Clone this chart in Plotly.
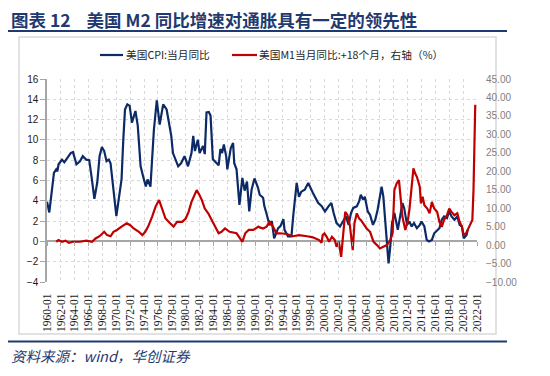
import plotly.graph_objects as go

# ---------------- data ----------------
cpi_dates = [
    "1960-01", "1960-05", "1961-01", "1961-05", "1961-07", "1961-09", "1962-03", "1962-07", "1962-12",
    "1963-06", "1963-10", "1964-04", "1964-10", "1965-03", "1965-09", "1966-02", "1966-06", "1966-11",
    "1967-04", "1967-08", "1967-12", "1968-04", "1968-08", "1968-12", "1969-03", "1969-07", "1970-01",
    "1970-05", "1970-10", "1971-01", "1971-04", "1971-08", "1971-12", "1972-04", "1972-07", "1972-10",
    "1973-02", "1973-07", "1973-12", "1974-04", "1974-07", "1974-12", "1975-06", "1975-09", "1975-11",
    "1976-04", "1976-10", "1977-04", "1977-07", "1977-12", "1978-03", "1978-09", "1978-12", "1979-05",
    "1979-11", "1980-02", "1980-05", "1980-11", "1981-02", "1981-05", "1981-10", "1982-01", "1982-07",
    "1982-10", "1983-01", "1983-05", "1983-08", "1983-12", "1984-06", "1984-10", "1985-01", "1985-04",
    "1985-07", "1985-11", "1986-01", "1986-04", "1986-07", "1986-11", "1987-01", "1987-05", "1987-10",
    "1988-03", "1988-07", "1988-11", "1989-03", "1989-07", "1989-12", "1990-06", "1990-09", "1991-03",
    "1991-05", "1991-09", "1992-02", "1992-06", "1992-10", "1993-05", "1993-09", "1994-02", "1994-04",
    "1994-10", "1995-04", "1995-07", "1995-10", "1996-01", "1996-05", "1996-09", "1997-03", "1997-09",
    "1998-05", "1999-02", "1999-08", "2000-02", "2000-08", "2001-01", "2001-05", "2001-10", "2002-04",
    "2002-10", "2003-02", "2003-07", "2003-11", "2004-03", "2004-09", "2005-01", "2005-04", "2005-08",
    "2005-11", "2006-04", "2006-08", "2007-01", "2007-05", "2007-09", "2008-01", "2008-04", "2008-07",
    "2008-10", "2009-01", "2009-04", "2009-07", "2009-10", "2010-02", "2010-05", "2010-08", "2010-12",
    "2011-04", "2011-07", "2011-12", "2012-04", "2012-08", "2012-12", "2013-05", "2013-10", "2014-01",
    "2014-06", "2014-10", "2015-02", "2015-07", "2015-11", "2016-04", "2016-08", "2016-12", "2017-04",
    "2017-09", "2018-01", "2018-05", "2018-10", "2019-03", "2019-07", "2019-11", "2020-02", "2020-07",
    "2020-09",
]
cpi_values = [
    3.9, 2.85, 6.75, 7.1, 6.9, 7.6, 8.05, 7.8, 8.2,
    8.7, 8.8, 7.6, 7.9, 8.4, 8.05, 8.0, 6.4, 4.2,
    5.8, 8.4, 9.3, 8.9, 7.9, 8.05, 7.7, 5.4, 2.5,
    4.1, 6.1, 10.0, 13.0, 13.5, 13.35, 11.7, 12.4, 12.85,
    11.4, 7.4, 6.25, 5.4, 6.1, 5.4, 11.0, 12.4, 13.9,
    11.5, 13.5, 13.0, 12.0, 10.4, 8.7, 7.9, 7.4, 7.7,
    8.4, 7.9, 7.4, 8.7, 10.4, 8.9, 10.0, 8.7, 9.4,
    8.6, 12.7, 12.75, 12.4, 8.1, 7.7, 7.5, 9.1, 8.7,
    9.55, 8.4, 7.1, 8.2, 9.2, 9.7, 7.7, 7.1, 3.6,
    6.25, 5.0, 5.9, 2.95, 5.1, 6.2, 5.3, 4.6, 4.3,
    3.5, 2.7, 1.6, 2.0, 0.3, 1.3, 1.5, 2.2, 1.14,
    0.5, 0.5, 2.46, 4.4, 5.76, 4.4, 4.9, 5.1, 5.76,
    4.8, 3.8, 3.5, 2.95, 3.45, 3.78, 2.8, 1.8, 1.47,
    2.13, 2.46, 1.63, 2.8, 3.3, 3.45, 3.94, 4.6, 4.1,
    4.4, 2.95, 2.6, 1.63, 2.13, 3.1, 4.4, 5.4, 4.4,
    2.13, -0.5, -2.16, -0.5, 1.8, 2.8, 2.0, 1.14, 2.46,
    3.78, 3.3, 1.63, 1.96, 1.47, 1.8, 1.3, 1.63, 1.96,
    1.47, 0.15, 0.0, 0.15, 0.8, 1.14, 1.3, 2.13, 2.46,
    2.3, 2.95, 2.46, 2.13, 2.46, 1.63, 1.47, 0.3, 0.64,
    1.14,
]

m1_dates = [
    "1961-05", "1961-09", "1962-03", "1962-09", "1963-03", "1963-10", "1964-10", "1965-09", "1966-07",
    "1967-01", "1967-08", "1968-01", "1968-04", "1968-09", "1969-03", "1969-08", "1970-02", "1970-10",
    "1971-07", "1972-01", "1972-07", "1973-04", "1973-10", "1974-03", "1974-08", "1975-03", "1975-09",
    "1976-03", "1976-08", "1977-02", "1977-10", "1978-04", "1978-10", "1979-07", "1980-01", "1980-06",
    "1980-11", "1981-05", "1981-08", "1982-01", "1982-05", "1982-10", "1983-04", "1983-10", "1984-04",
    "1984-10", "1985-03", "1985-09", "1986-05", "1986-12", "1987-05", "1987-11", "1988-03", "1988-08",
    "1989-02", "1989-10", "1990-07", "1990-09", "1991-03", "1991-09", "1992-02", "1992-08", "1993-02",
    "1993-08", "1994-08", "1995-07", "1996-05", "1997-07", "1998-05", "1999-04", "1999-08", "1999-10",
    "2000-01", "2000-05", "2000-09", "2001-02", "2001-07", "2001-10", "2002-02", "2002-06", "2002-10",
    "2003-01", "2003-05", "2003-09", "2004-02", "2004-05", "2004-09", "2005-01", "2005-04", "2005-10",
    "2006-02", "2006-08", "2007-02", "2007-08", "2008-01", "2008-07", "2009-01", "2009-07", "2009-11",
    "2010-02", "2010-06", "2010-10", "2011-02", "2011-04", "2011-09", "2012-01", "2012-04", "2012-08",
    "2012-11", "2013-02", "2013-05", "2013-10", "2013-12", "2014-03", "2014-06", "2014-11", "2015-03",
    "2015-07", "2015-11", "2016-04", "2016-08", "2016-12", "2017-04", "2017-09", "2018-01", "2018-05",
    "2018-10", "2019-03", "2019-07", "2019-11", "2020-02", "2020-06", "2020-10", "2021-02", "2021-04",
    "2021-05", "2021-07", "2021-08", "2021-10",
]
m1_values = [
    0.9, 1.35, 0.9, 1.2, 0.6, 0.9, 0.9, 1.2, 0.9,
    1.8, 2.4, 3.2, 3.6, 2.7, 2.4, 3.6, 4.1, 5.0,
    5.9, 5.4, 4.5, 3.6, 2.7, 3.6, 5.0, 7.7, 10.5,
    12.2, 9.9, 7.2, 5.9, 5.0, 6.3, 6.3, 7.2, 9.0,
    11.7, 14.0, 14.9, 13.5, 12.2, 9.9, 8.6, 6.8, 5.0,
    3.2, 3.6, 4.5, 3.6, 3.3, 3.2, 1.8, 0.9, 3.2,
    4.1, 4.1, 5.0, 4.8, 4.5, 5.0, 6.3, 5.0, 3.2,
    3.2, 3.0, 2.4, 2.7, 2.4, 2.1, 1.35, 0.6, 2.7,
    3.17, 2.25, 0.9, 2.25, 1.35, -0.46, 0.9, -3.2, 4.96,
    9.0, 8.1, 5.4, -1.35, 5.9, 8.6, 7.2, 6.8, 5.4,
    4.5, 3.6, 0.9, 0.0, -0.9, -0.46, 0.0, 1.35, 3.17,
    14.9, 16.7, 17.6, 11.3, 7.67, 4.07, 6.3, 9.5, 15.8,
    20.8, 19.4, 18.5, 15.8, 11.3, 13.1, 10.8, 9.9, 8.6,
    11.7, 9.9, 9.0, 6.3, 4.96, 6.8, 8.1, 9.9, 9.0,
    8.1, 8.6, 6.3, 4.96, 2.7, 3.17, 4.5, 5.9, 6.3,
    6.8, 15.0, 26.0, 38.0,
]

cpi_name = "美国CPI:当月同比"
m1_name = "美国M1当月同比:+18个月，右轴（%）"
title_text = "图表 12 &nbsp;&nbsp;&nbsp;美国 M2 同比增速对通胀具有一定的领先性"
source_text = "资料来源：wind，华创证券"

left_range = [-4, 16]
right_range = [-10, 45]
x_range = ["1960-01-01", "2022-01-01"]

# ---------------- layout geometry ----------------
# the page body adds an 8px margin, so the figure is drawn 8px smaller
OFF = 8
W, H = 550 - OFF, 376 - OFF
PL, PR, PT, PB = 47, 477, 79, 282          # plot box in page pixels
ML, MT = PL - OFF, PT - OFF
MR, MB = W - (PR - OFF), H - (PB - OFF)
PW, PH = PR - PL, PB - PT


def px(x):
    return (x - PL) / PW


def py(y):
    return (PB - y) / PH


NAVY = "#0c2a66"
RED = "#c00000"
TITLE_BLUE = "#1f3a70"
LEG_FONT = dict(family="Noto Sans CJK SC", size=10.7, color="#262626")

fig = go.Figure()
fig.add_trace(go.Scatter(x=cpi_dates, y=cpi_values, name=cpi_name, mode="lines",
                         line=dict(color=NAVY, width=2.2), yaxis="y", showlegend=False))
fig.add_trace(go.Scatter(x=m1_dates, y=m1_values, name=m1_name, mode="lines",
                         line=dict(color=RED, width=2.2), yaxis="y2", showlegend=False))
# helper trace so the tick-only axis on the zero line is drawn
fig.add_trace(go.Scatter(x=[cpi_dates[0]], y=[None], xaxis="x2", yaxis="y",
                         showlegend=False, hoverinfo="skip", mode="lines"))

zero_pos = (0 - left_range[0]) / (left_range[1] - left_range[0])

fig.update_layout(
    width=W, height=H,
    margin=dict(l=ML, r=MR, t=MT, b=MB, autoexpand=False),
    paper_bgcolor="white", plot_bgcolor="white",
    showlegend=False,
    xaxis=dict(type="date", range=x_range, tick0="1960-01-01", dtick="M24", tickformat="%Y-%m",
               tickangle=-90, showgrid=True, gridcolor="#d9d9d9", griddash="dot", gridwidth=1,
               showline=False, zeroline=False, ticks="outside", ticklen=6, tickcolor="rgba(0,0,0,0)",
               tickfont=dict(family="Liberation Serif", size=11.5, color="#1a1a1a")),
    xaxis2=dict(type="date", range=x_range, tick0="1960-01-01", dtick="M24", overlaying="x",
                anchor="free", position=zero_pos, showticklabels=False, showgrid=False,
                showline=False, zeroline=False, ticks="outside", ticklen=4, tickcolor="#a6a6a6"),
    yaxis=dict(range=left_range, dtick=2, showgrid=True, gridcolor="#d9d9d9", griddash="dot",
               zeroline=True, zerolinecolor="#a6a6a6", zerolinewidth=1.5,
               showline=True, linecolor="#a6a6a6", linewidth=1.5,
               ticks="outside", ticklen=5, tickcolor="#a6a6a6",
               tickfont=dict(family="Liberation Sans", size=10, color="#1a1a1a")),
    yaxis2=dict(range=right_range, dtick=5, tickformat=".2f", overlaying="y", side="right",
                showgrid=False, zeroline=False, showline=False, ticks="",
                ticklabelstandoff=8,
                tickfont=dict(family="Liberation Sans", size=10, color="#7f7f7f")),
    shapes=[
        dict(type="rect", xref="paper", yref="paper", x0=px(19), x1=px(496), y0=py(334), y1=py(37),
             line=dict(color="#d9d9d9", width=1.5), layer="below"),
        dict(type="line", xref="paper", yref="paper", x0=px(8), x1=px(507), y0=py(31), y1=py(31),
             line=dict(color=TITLE_BLUE, width=2)),
        dict(type="line", xref="paper", yref="paper", x0=px(8), x1=px(507), y0=py(341.5), y1=py(341.5),
             line=dict(color=TITLE_BLUE, width=2)),
        # legend samples
        dict(type="line", xref="paper", yref="paper", x0=px(100), x1=px(123), y0=py(55), y1=py(55),
             line=dict(color=NAVY, width=2.2)),
        dict(type="line", xref="paper", yref="paper", x0=px(232), x1=px(257), y0=py(55), y1=py(55),
             line=dict(color=RED, width=2.2)),
    ],
    annotations=[
        dict(text="<b>" + title_text + "</b>", xref="paper", yref="paper", x=px(9), y=py(19.5),
             xanchor="left", yanchor="middle", showarrow=False,
             font=dict(family="Noto Sans CJK SC", size=17.5, color=TITLE_BLUE)),
        dict(text=source_text, xref="paper", yref="paper", x=px(9), y=py(355),
             xanchor="left", yanchor="middle", showarrow=False,
             font=dict(family="Noto Sans CJK SC", size=14.5, color=TITLE_BLUE, style="italic")),
        dict(text=cpi_name, xref="paper", yref="paper", x=px(124), y=py(55),
             xanchor="left", yanchor="middle", showarrow=False, font=LEG_FONT),
        dict(text=m1_name, xref="paper", yref="paper", x=px(257), y=py(55),
             xanchor="left", yanchor="middle", showarrow=False, font=LEG_FONT),
    ],
)

fig.write_html("out.html")
